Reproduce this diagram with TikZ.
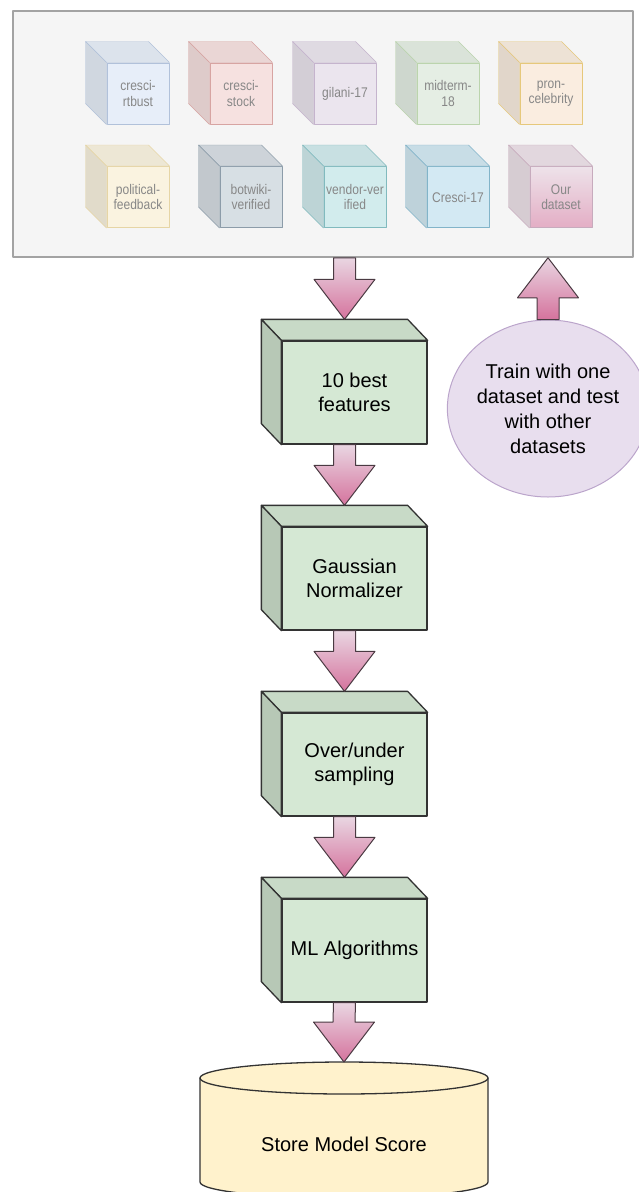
\documentclass[tikz,border=0pt]{standalone}
\usepackage{fontspec}
\setmainfont{Liberation Sans}
\newfontfamily\narrowsans[FakeStretch=0.86]{Liberation Sans}
\usetikzlibrary{calc}
\usetikzlibrary{shapes.geometric}

\definecolor{panelbg}{HTML}{F5F5F5}
\definecolor{panelline}{HTML}{A3A3A3}
\definecolor{stepgreen}{HTML}{D5E8D4}
\definecolor{edgedark}{HTML}{333333}
\definecolor{pinktop}{HTML}{E9D6E2}
\definecolor{pinkbot}{HTML}{D5739D}
\definecolor{pinkline}{HTML}{4A3A42}
\definecolor{lilac}{HTML}{E8DEEE}
\definecolor{lilacline}{HTML}{BBA5CB}
\definecolor{storefill}{HTML}{FFF2CC}
\definecolor{cBlueF}{HTML}{DAE8FC}\definecolor{cBlueD}{HTML}{6C8EBF}
\definecolor{cRedF}{HTML}{F8CECC}\definecolor{cRedD}{HTML}{B85450}
\definecolor{cPurpleF}{HTML}{E1D5E7}\definecolor{cPurpleD}{HTML}{9673A6}
\definecolor{cGreenF}{HTML}{D5E8D4}\definecolor{cGreenD}{HTML}{82B366}
\definecolor{cOrangeF}{HTML}{FFE6CC}\definecolor{cOrangeD}{HTML}{D79B00}
\definecolor{cYellowF}{HTML}{FFF2CC}\definecolor{cYellowD}{HTML}{D6B656}
\definecolor{cSlateF}{HTML}{BAC8D3}\definecolor{cSlateD}{HTML}{23445D}
\definecolor{cTealF}{HTML}{B0E3E6}\definecolor{cTealD}{HTML}{0E8088}
\definecolor{cSkyF}{HTML}{B1DDF0}\definecolor{cSkyD}{HTML}{10739E}
\definecolor{cPinkF}{HTML}{E6D0DE}\definecolor{cPinkD}{HTML}{996185}

% dataset cube: [extra], name, x, y, colour, text
\newcommand{\dcube}[6][]{%
  \node[dsetface, fill=#5F!50!panelbg, draw=#5D!50!panelbg, #1] (#2) at (#3,#4) {#6};
  \filldraw[fill=#5F!50!panelbg!95!black, draw=#5D!50!panelbg, line join=round]
    (#2.north west) -- ++(-21,-21) -- ($(#2.north east)+(-21,-21)$) -- (#2.north east) -- cycle;
  \filldraw[fill=#5F!50!panelbg!90!black, draw=#5D!50!panelbg, line join=round]
    (#2.north west) -- ++(-21,-21) -- ($(#2.south west)+(-21,-21)$) -- (#2.south west) -- cycle;
}

% pipeline step: name, y, text
\newcommand{\stepbox}[3]{%
  \node[stepface] (#1) at (354.5,#2) {#3};
  \filldraw[fill=stepgreen!94!black, draw=edgedark, line width=1.3, line join=round]
    (#1.north west) -- ++(-20,-21) -- ($(#1.north east)+(-20,-21)$) -- (#1.north east) -- cycle;
  \filldraw[fill=stepgreen!86!black, draw=edgedark, line width=1.3, line join=round]
    (#1.north west) -- ++(-20,-21) -- ($(#1.south west)+(-20,-21)$) -- (#1.south west) -- cycle;
  \coordinate (#1-top) at ($(#1.north)+(-10,-21)$);
  \coordinate (#1-bot) at ($(#1.south)+(-10,0)$);
}

% block arrow: [head offset], from, tip
\newcommand{\pinkarrow}[3][-40]{%
  \draw[pinkshaft] ($(#2)+(-11,0)$) -- ($(#3)+(-11,#1)$) -- ($(#3)+(-30.5,#1)$) -- (#3)
    -- ($(#3)+(30.5,#1)$) -- ($(#3)+(11,#1)$) -- ($(#2)+(11,0)$) -- cycle;
}

\begin{document}
\begin{tikzpicture}[x=1pt,y=-1pt,line cap=round,line join=round,
    dsetface/.style={rectangle, minimum width=62, minimum height=61, inner sep=0,
      line width=1, align=center, text=black!45!panelbg,
      font=\narrowsans\fontsize{14}{15.5}\selectfont},
    stepface/.style={rectangle, minimum width=145, minimum height=103, inner sep=0,
      fill=stepgreen, draw=edgedark, line width=1.3, align=center,
      font=\fontsize{20}{24.5}\selectfont},
    pinkshaft/.style={top color=pinktop, bottom color=pinkbot, draw=pinkline, line width=1}]
  \useasboundingbox (0,0) rectangle (639,1192);

  \node[draw=panelline, fill=panelbg, line width=1.5, minimum width=620, minimum height=246,
    inner sep=0] (datasets) at (323,134) {};

  \dcube{rtbust}{138}{93.5}{cBlue}{cresci-\\rtbust}
  \dcube{stock}{241}{93.5}{cRed}{cresci-\\stock}
  \dcube{gilani}{345}{93.5}{cPurple}{gilani-17}
  \dcube{midterm}{448}{93.5}{cGreen}{midterm-\\18}
  \dcube{pron}{551}{93.5}{cOrange}{pron-\\celebrity}
  \dcube{political}{138}{197}{cYellow}{political-\\feedback}
  \dcube{botwiki}{251}{197}{cSlate}{botwiki-\\verified}
  \dcube{vendor}{355}{197}{cTeal}{vendor-ver\\ified}
  \dcube{cresci}{458}{197}{cSky}{Cresci-17}
  \dcube[top color=cPinkF!50!panelbg, bottom color=pinkbot!55!panelbg]{ours}{561}{197}{cPink}{Our\\dataset}

  \stepbox{feat}{392.5}{10 best\\features}
  \stepbox{gauss}{578.5}{Gaussian\\Normalizer}
  \stepbox{sampling}{764.5}{Over/under\\sampling}
  \stepbox{ml}{950.5}{ML Algorithms}

  \node[ellipse, minimum width=170, minimum height=177, inner sep=0, fill=lilac,
    draw=lilacline, line width=1, align=center, font=\fontsize{20}{25}\selectfont]
    (train) at (548,408.5) {Train with one\\dataset and test\\with other\\datasets};

  \filldraw[fill=storefill, draw=edgedark, line width=1.3] (200,1078) -- (200,1182)
    arc[start angle=180, end angle=0, x radius=144, y radius=16] -- (488,1078) -- cycle;
  \filldraw[fill=storefill, draw=edgedark, line width=1.3] (344,1078) ellipse[x radius=144, y radius=16];
  \node[font=\fontsize{20}{24}\selectfont] (store) at (344,1144) {Store Model Score};
  \coordinate (store-top) at (344,1062);

  \coordinate (out) at (datasets.south -| feat-top);
  \coordinate (back) at (datasets.south -| train.north);
  \pinkarrow{out}{feat-top}
  \pinkarrow{feat-bot}{gauss-top}
  \pinkarrow{gauss-bot}{sampling-top}
  \pinkarrow{sampling-bot}{ml-top}
  \pinkarrow{ml-bot}{store-top}
  \pinkarrow[40]{train.north}{back}
\end{tikzpicture}
\end{document}
